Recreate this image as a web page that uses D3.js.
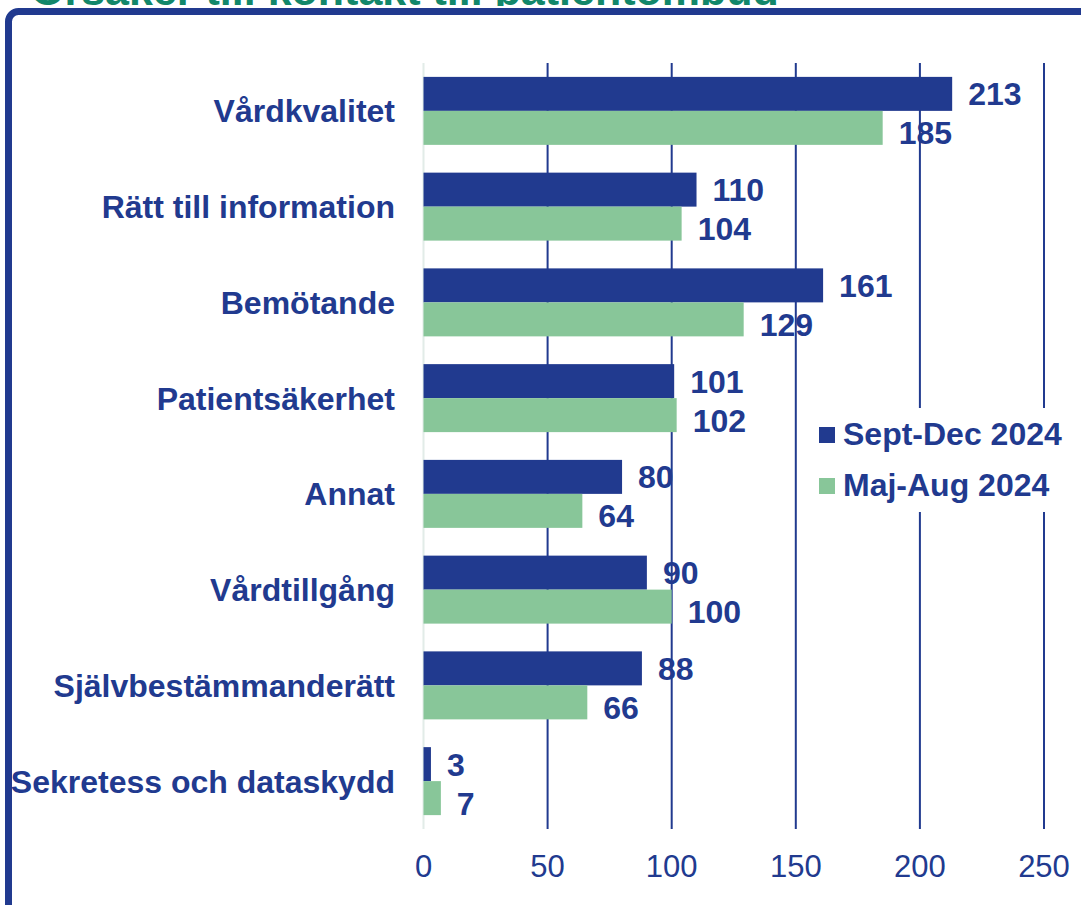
<!DOCTYPE html>
<html>
<head>
<meta charset="utf-8">
<script src="https://cdn.jsdelivr.net/npm/d3@7"></script>
<style>
  html, body { margin: 0; padding: 0; background: #ffffff; }
  svg { display: block; }
  text { font-family: "Liberation Sans", Arial, sans-serif; }
</style>
</head>
<body>
<svg id="chart" width="1081" height="905"></svg>
<script>
const title = "Orsaker till kontakt till patientombud";
const categories = ["Vårdkvalitet", "Rätt till information", "Bemötande", "Patientsäkerhet", "Annat", "Vårdtillgång", "Självbestämmanderätt", "Sekretess och dataskydd"];
const septDec = [213, 110, 161, 101, 80, 90, 88, 3];
const majAug = [185, 104, 129, 102, 64, 100, 66, 7];
const seriesNames = ["Sept-Dec 2024", "Maj-Aug 2024"];
const xTicks = [0, 50, 100, 150, 200, 250];

const BLUE = "#213a8f";
const GREEN = "#88c699";
const TITLE_GREEN = "#12876a";

const svg = d3.select("#chart");

// Title (mostly cut off at the top, as in the original)
svg.append("defs").append("clipPath").attr("id", "titleClip")
  .append("rect").attr("x", 0).attr("y", -60).attr("width", 1081).attr("height", 66);
svg.append("text")
  .attr("clip-path", "url(#titleClip)")
  .attr("x", 31).attr("y", 5)
  .attr("font-size", 43).attr("font-weight", "bold")
  .attr("fill", TITLE_GREEN)
  .text(title);

// Frame
svg.append("rect")
  .attr("x", 8.5).attr("y", 11.5).attr("width", 1200).attr("height", 1000)
  .attr("rx", 10).attr("ry", 10)
  .attr("fill", "#ffffff").attr("stroke", BLUE).attr("stroke-width", 7);

const plotTop = 63, plotBottom = 829;
const x = d3.scaleLinear().domain([0, 250]).range([423.5, 1044]);
const y = d3.scaleBand().domain(categories).range([plotTop, plotBottom]).paddingInner(0.29).paddingOuter(0.145);
const sub = d3.scaleBand().domain(seriesNames).range([0, y.bandwidth()]);

// Gridlines
svg.append("g").selectAll("line").data(xTicks).join("line")
  .attr("x1", d => x(d)).attr("x2", d => x(d))
  .attr("y1", plotTop).attr("y2", plotBottom)
  .attr("stroke", d => d === 0 ? "#e2ece8" : BLUE)
  .attr("stroke-width", 2);

// Tick labels
svg.append("g").selectAll("text").data(xTicks).join("text")
  .attr("x", d => x(d)).attr("y", 877)
  .attr("text-anchor", "middle")
  .attr("font-size", 31)
  .attr("fill", BLUE)
  .text(d => d);

// Legend background (covers gridlines)
svg.append("rect")
  .attr("x", 805).attr("y", 408).attr("width", 262).attr("height", 104)
  .attr("fill", "#ffffff");

const series = [
  { name: seriesNames[0], values: septDec, color: BLUE, dy: 0 },
  { name: seriesNames[1], values: majAug, color: GREEN, dy: 5 }
];

// Bars
series.forEach(s => {
  svg.append("g").selectAll("rect").data(categories).join("rect")
    .attr("x", x(0))
    .attr("y", (c) => y(c) + sub(s.name))
    .attr("width", (c, i) => x(s.values[i]) - x(0))
    .attr("height", sub.bandwidth())
    .attr("fill", s.color);
});

// Value labels
series.forEach(s => {
  svg.append("g").selectAll("text").data(categories).join("text")
    .attr("x", (c, i) => x(s.values[i]) + 16)
    .attr("y", (c) => y(c) + sub(s.name) + sub.bandwidth() / 2 + s.dy)
    .attr("dy", "0.36em")
    .attr("font-size", 32).attr("font-weight", "bold")
    .attr("fill", BLUE)
    .text((c, i) => s.values[i]);
});

// Category labels
svg.append("g").selectAll("text").data(categories).join("text")
  .attr("x", 395)
  .attr("y", c => y(c) + y.bandwidth() / 2)
  .attr("dy", "0.36em")
  .attr("text-anchor", "end")
  .attr("font-size", 32).attr("font-weight", "bold")
  .attr("fill", BLUE)
  .text(c => c);

// Legend
const legend = svg.append("g").selectAll("g").data(series).join("g")
  .attr("transform", (d, i) => `translate(819, ${427 + i * 51})`);
legend.append("rect")
  .attr("width", 16).attr("height", 16)
  .attr("fill", d => d.color);
legend.append("text")
  .attr("x", 24).attr("y", 18)
  .attr("font-size", 32).attr("font-weight", "bold")
  .attr("fill", BLUE)
  .text(d => d.name);
</script>
</body>
</html>
